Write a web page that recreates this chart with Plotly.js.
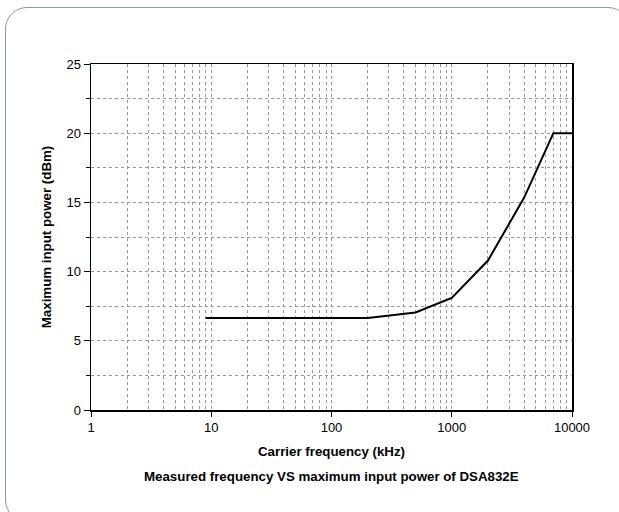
<!DOCTYPE html>
<html><head><meta charset="utf-8">
<script src="https://cdn.plot.ly/plotly-3.0.1.min.js"></script>
<style>
html,body{margin:0;padding:0;background:#fff;}
#frame{position:absolute;left:5px;top:7px;width:625px;height:515px;border:1.3px solid #8a9aaa;border-radius:22px;box-sizing:border-box;}
#chart{position:absolute;left:0;top:0;width:619px;height:512px;}
</style></head>
<body>
<div id="frame"></div>
<div id="chart"></div>
<script>
const freqKHz = [9, 200, 500, 1000, 2000, 4000, 7000, 10000];
const maxPowerDBm = [6.65, 6.65, 7.05, 8.1, 10.8, 15.35, 20, 20];
const xMajorTicks = [1, 10, 100, 1000, 10000];
const xMajorLabels = ['1', '10', '100', '1000', '10000'];
const xMinorTicks = [];
[1, 10, 100, 1000].forEach(d => { for (let k = 2; k <= 9; k++) xMinorTicks.push(d * k); });

const font = {family: 'Liberation Sans, Arial, sans-serif', color: '#000'};
const trace = {
  x: freqKHz, y: maxPowerDBm, type: 'scatter', mode: 'lines',
  line: {color: '#000', width: 2}, hoverinfo: 'skip'
};
const layout = {
  width: 619, height: 512,
  margin: {l: 91, r: 47, t: 64, b: 102},
  paper_bgcolor: 'rgba(0,0,0,0)', plot_bgcolor: 'rgba(0,0,0,0)',
  showlegend: false,
  font: Object.assign({size: 13}, font),
  xaxis: {
    type: 'log', range: [0, 4],
    tickmode: 'array', tickvals: xMajorTicks, ticktext: xMajorLabels,
    ticks: 'outside', ticklen: 5, tickwidth: 1, tickcolor: '#000',
    showline: true, linecolor: '#000', linewidth: 1.5, mirror: true,
    showgrid: true, gridcolor: '#999', griddash: 'dot', gridwidth: 1,
    minor: {tickmode: 'array', tickvals: xMinorTicks, ticks: '', showgrid: true, gridcolor: '#999', griddash: 'dot', gridwidth: 1},
    zeroline: false,
    tickfont: Object.assign({size: 13}, font),
    title: {text: '<b>Carrier frequency (kHz)</b>', font: Object.assign({size: 13.3}, font), standoff: 12}
  },
  yaxis: {
    range: [0, 25], dtick: 5, tick0: 0,
    ticks: 'outside', ticklen: 6, tickwidth: 1, tickcolor: '#000',
    showline: true, linecolor: '#000', linewidth: 1.5, mirror: true,
    showgrid: true, gridcolor: '#999', griddash: 'dot', gridwidth: 1,
    minor: {dtick: 2.5, tick0: 0, ticks: 'outside', ticklen: 4, tickcolor: '#000', showgrid: true, gridcolor: '#999', griddash: 'dot', gridwidth: 1},
    zeroline: false,
    tickfont: Object.assign({size: 13}, font),
    title: {text: '<b>Maximum input power (dBm)</b>', font: Object.assign({size: 13.3}, font), standoff: 12}
  },
  annotations: [{
    text: '<b>Measured frequency VS maximum input power of DSA832E</b>',
    xref: 'paper', yref: 'paper', x: 0.5, y: -0.165, yanchor: 'top', xanchor: 'center',
    showarrow: false, font: Object.assign({size: 13.3}, font)
  }]
};
Plotly.newPlot('chart', [trace], layout, {staticPlot: true, displayModeBar: false});
</script>
</body></html>
